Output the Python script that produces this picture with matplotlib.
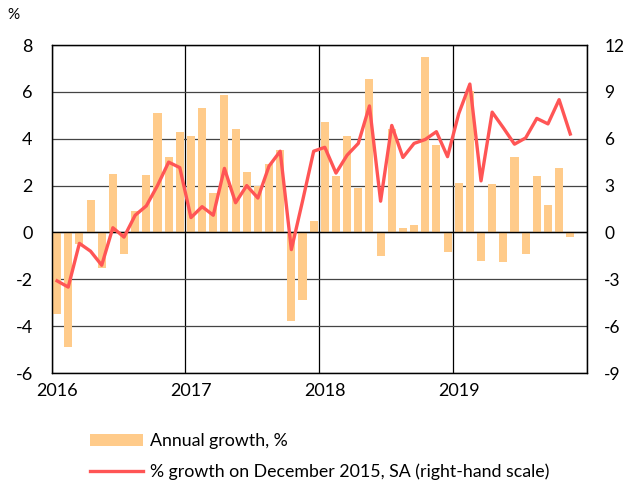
import matplotlib
matplotlib.use("Agg")
import matplotlib.pyplot as plt
import numpy as np
from matplotlib.patches import Patch
from matplotlib.lines import Line2D

years = ["2016", "2017", "2018", "2019"]
annual_growth = [-3.5, -4.9, -0.5, 1.4, -1.5, 2.5, -0.9, 0.9, 2.45, 5.1, 3.2, 4.3,
                 4.1, 5.3, 1.7, 5.85, 4.4, 2.6, 2.0, 2.9, 3.5, -3.8, -2.9, 0.5,
                 4.7, 2.4, 4.1, 1.9, 6.55, -1.0, 4.4, 0.2, 0.3, 7.5, 3.75, -0.85,
                 2.1, 6.05, -1.2, 2.05, -1.25, 3.2, -0.9, 2.4, 1.15, 2.75, -0.2]
growth_dec2015 = [-3.1, -3.5, -0.7, -1.2, -2.1, 0.3, -0.3, 1.1, 1.7, 3.0, 4.5, 4.15,
                  0.95, 1.65, 1.1, 4.1, 1.9, 3.0, 2.2, 4.25, 5.2, -1.1, 2.0, 5.2,
                  5.45, 3.8, 4.95, 5.7, 8.1, 2.0, 6.85, 4.8, 5.7, 5.95, 6.45, 4.85,
                  7.6, 9.5, 3.3, 7.7, 6.7, 5.65, 6.05, 7.3, 6.95, 8.5, 6.3]
left_ticks = [-6, -4, -2, 0, 2, 4, 6, 8]
right_ticks = [-9, -6, -3, 0, 3, 6, 9, 12]

plt.rcParams['font.family'] = ['Lato', 'DejaVu Sans']

fig = plt.figure(figsize=(6.25, 4.91), dpi=100)
ax = fig.add_axes([51.5/625, 1-373/491, (587-51.5)/625, (373-45)/491])
ax2 = ax.twinx()

n = len(annual_growth)
x = np.arange(n) + 0.5
bar_color = '#FFCB8A'
line_color = '#FF5555'

ax.set_axisbelow(True)
ax.bar(x, annual_growth, width=0.72, color=bar_color, zorder=2)
ax.axhline(0, color='black', lw=1.0, zorder=3)
ax.set_xlim(0, 48)
ax.set_ylim(-6, 8)
ax.set_yticks(left_ticks)
ax.set_yticklabels([str(t) for t in left_ticks])
ax.grid(axis='y', color='#444444', lw=0.9, zorder=0)

ax.set_xticks([0, 12, 24, 36, 48])
ax.set_xticklabels([])
ax.grid(axis='x', color='black', lw=0.9, zorder=0)
ax.set_xticks([0.5, 12.5, 24.5, 36.5], minor=True)
ax.set_xticklabels(years, minor=True)
ax.tick_params(axis='x', which='both', length=0, labelsize=13, pad=7)
ax.tick_params(axis='y', length=0, labelsize=13, pad=13.5)

ax2.plot(x, growth_dec2015, color=line_color, lw=2.4, zorder=4)
ax2.set_ylim(-9, 12)
ax2.set_yticks(right_ticks)
ax2.set_yticklabels([str(t) for t in right_ticks])
ax2.tick_params(axis='y', length=0, labelsize=12.5, pad=12.5)

for a in (ax, ax2):
    for s in a.spines.values():
        s.set_color('black')
        s.set_linewidth(0.9)

fig.text(13/625, 1-15/491, '%', fontsize=11, ha='center', va='center')

handles = [Patch(facecolor=bar_color, edgecolor='none'),
           Line2D([0], [0], color=line_color, lw=2.4)]
labels = ['Annual growth, %', '% growth on December 2015, SA (right-hand scale)']
fig.legend(handles, labels, loc='upper left', bbox_to_anchor=(90/625, 1-433/491),
           frameon=False, fontsize=12.8, handlelength=3.0, handleheight=0.65,
           handletextpad=0.4, labelspacing=0.8, borderpad=0, borderaxespad=0)

fig.savefig('out.png', dpi=100)
